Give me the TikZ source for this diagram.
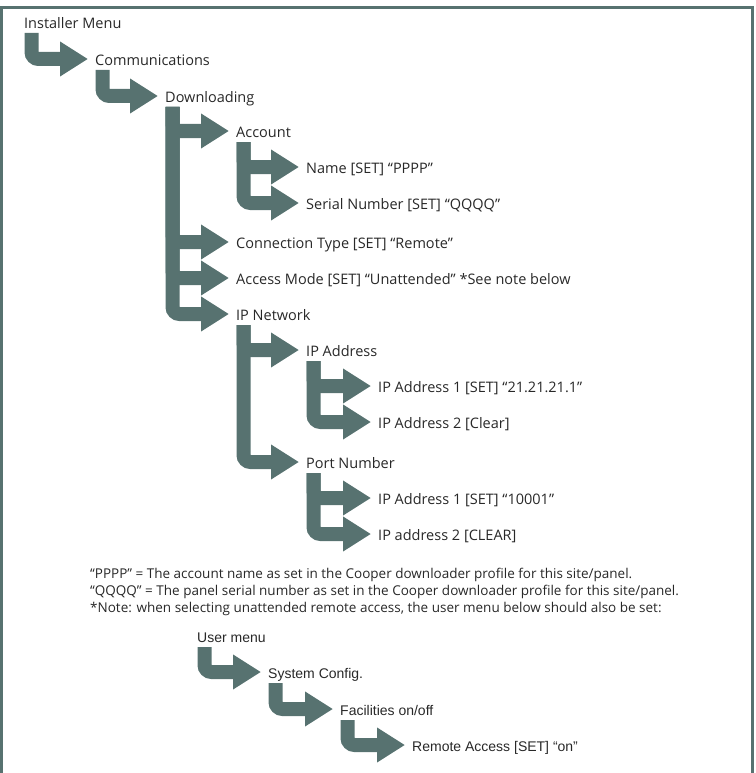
\documentclass[tikz,border=0pt]{standalone}
\usepackage{fontspec}
\setmainfont{Open Sans}
\newfontfamily\userfont{Liberation Sans}
\usetikzlibrary{arrows.meta}
\definecolor{menucolor}{RGB}{87,114,112}
\definecolor{labelcolor}{RGB}{40,40,40}

\begin{document}
\begin{tikzpicture}[x=1pt, y=-1pt,
          item/.style={anchor=west, inner sep=0pt, text=labelcolor, text height=14pt, text depth=1.5pt,
                       font=\fontsize{14.5}{17}\selectfont},
          useritem/.style={item, font=\userfont\fontsize{14}{17}\selectfont},
          note/.style={anchor=west, inner sep=0pt, text=labelcolor, font=\fontsize{13.5}{15}\selectfont},
          branch/.style={draw=menucolor, line width=14pt, rounded corners=7pt,
                         -{Triangle[length=28pt, width=33pt]}}]

          \useasboundingbox (0,0) rectangle (755,773);
          % Frame
          \draw[menucolor, line width=3pt, line join=miter] (1.5,773) |- (752.5,7.5) -- (752.5,773);

          % Nodes
          \node[item] (im) at (24,22) {Installer Menu};
          \node[item] (co) at (95,59) {Communications};
          \node[item] (dl) at (165,96) {Downloading};
          \node[item] (ac) at (236,131) {Account};
          \node[item] (nm) at (306,167) {Name [SET] “PPPP”};
          \node[item] (sn) at (306,203) {Serial Number [SET] “QQQQ”};
          \node[item] (ct) at (236,242) {Connection Type [SET] “Remote”};
          \node[item] (am) at (236,278) {Access Mode [SET] “Unattended” *See note below};
          \node[item] (ipn) at (236,314) {IP Network};
          \node[item] (ipa) at (306,350) {IP Address};
          \node[item] (ipa1) at (378,386) {IP Address 1 [SET] “21.21.21.1”};
          \node[item] (ipa2) at (378,422) {IP Address 2 [Clear]};
          \node[item] (pn) at (306,462) {Port Number};
          \node[item] (pn1) at (378,498) {IP Address 1 [SET] “10001”};
          \node[item] (pn2) at (378,534) {IP address 2 [CLEAR]};

          % Notes
          \node[note] (n1) at (90,575) {“PPPP” = The account name as set in the Cooper downloader profile for this site/panel.};
          \node[note] (n2) at (90,592) {“QQQQ” = The panel serial number as set in the Cooper downloader profile for this site/panel.};
          \node[note] (n3) at (90,609) {*Note: when selecting unattended remote access, the user menu below should also be set:};

          % User menu
          \node[useritem] (um) at (197,636) {User menu};
          \node[useritem] (sc) at (268,672) {System Config.};
          \node[useritem] (fa) at (340,709) {Facilities on/off};
          \node[useritem] (ra) at (412,745) {Remote Access [SET] “on”};

          % Branches
          \draw[branch] ([shift={(7.5,11)}]im.west) |- ([xshift=-7pt]co.west);
          \draw[branch] ([shift={(7.5,11)}]co.west) |- ([xshift=-7pt]dl.west);
          \draw[branch] ([shift={(7.5,11)}]dl.west) |- ([xshift=-7pt]ac.west);
          \draw[branch] ([shift={(7.5,11)}]dl.west) |- ([xshift=-7pt]ct.west);
          \draw[branch] ([shift={(7.5,11)}]dl.west) |- ([xshift=-7pt]am.west);
          \draw[branch] ([shift={(7.5,11)}]dl.west) |- ([xshift=-7pt]ipn.west);
          \draw[branch] ([shift={(7.5,11)}]ac.west) |- ([xshift=-7pt]nm.west);
          \draw[branch] ([shift={(7.5,11)}]ac.west) |- ([xshift=-7pt]sn.west);
          \draw[branch] ([shift={(7.5,11)}]ipn.west) |- ([xshift=-7pt]ipa.west);
          \draw[branch] ([shift={(7.5,11)}]ipn.west) |- ([xshift=-7pt]pn.west);
          \draw[branch] ([shift={(7.5,11)}]ipa.west) |- ([xshift=-7pt]ipa1.west);
          \draw[branch] ([shift={(7.5,11)}]ipa.west) |- ([xshift=-7pt]ipa2.west);
          \draw[branch] ([shift={(7.5,11)}]pn.west) |- ([xshift=-7pt]pn1.west);
          \draw[branch] ([shift={(7.5,11)}]pn.west) |- ([xshift=-7pt]pn2.west);
          \draw[branch] ([shift={(7.5,11)}]um.west) |- ([xshift=-7pt]sc.west);
          \draw[branch] ([shift={(7.5,11)}]sc.west) |- ([xshift=-7pt]fa.west);
          \draw[branch] ([shift={(7.5,11)}]fa.west) |- ([xshift=-7pt]ra.west);
        \end{tikzpicture}
\end{document}
